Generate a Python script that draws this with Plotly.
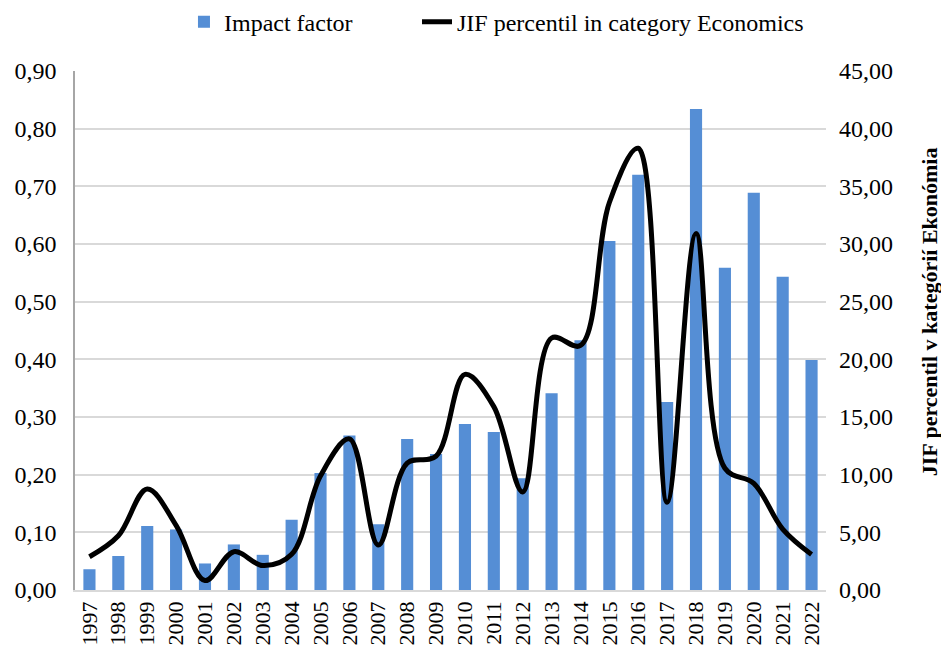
import plotly.graph_objects as go

years = [str(y) for y in range(1997, 2023)]
impact_factor = [0.036, 0.059, 0.111, 0.105, 0.046, 0.079, 0.061, 0.122, 0.203, 0.268,
                 0.114, 0.262, 0.236, 0.288, 0.274, 0.194, 0.341, 0.433, 0.605, 0.720,
                 0.326, 0.834, 0.559, 0.689, 0.543, 0.399]
jif_percentile = [2.88, 4.7, 8.76, 5.6, 0.82, 3.32, 2.12, 3.09, 9.9, 13.1,
                  3.9, 11.0, 11.6, 18.7, 15.9, 8.5, 21.85, 21.2, 33.6, 38.3,
                  7.6, 30.9, 10.56, 9.24, 5.28, 3.08]
left_ticks = [0, 0.1, 0.2, 0.3, 0.4, 0.5, 0.6, 0.7, 0.8, 0.9]
right_ticks = [0, 5, 10, 15, 20, 25, 30, 35, 40, 45]
right_title = "JIF percentil v kategórií Ekonómia"

FONT = "Liberation Serif"

fig = go.Figure()
fig.add_trace(go.Bar(
    x=years, y=impact_factor, name="Impact factor",
    marker=dict(color="#558ED5", line=dict(width=0)),
    yaxis="y", legend="legend",
))
fig.add_trace(go.Scatter(
    x=years, y=jif_percentile, name="JIF percentil in category Economics",
    mode="lines", line=dict(color="black", width=5, shape="spline", smoothing=1),
    yaxis="y2", legend="legend2",
))

legend_common = dict(orientation="h", xanchor="left", y=1.094, yanchor="middle",
                     font=dict(family=FONT, size=24), bgcolor="rgba(0,0,0,0)")

fig.update_layout(
    width=949, height=645,
    margin=dict(l=67, r=131, t=63, b=63, autoexpand=False),
    paper_bgcolor="white", plot_bgcolor="white",
    font=dict(family=FONT, size=24, color="black"),
    separators=", ",
    bargap=0.58,
    showlegend=True,
    legend=dict(x=0.1451, **legend_common),
    legend2=dict(x=0.4554, **legend_common),
    xaxis=dict(type="category", tickmode="array", tickvals=years, ticktext=years,
               tickangle=-90, showline=True, linecolor="#d9d9d9",
               linewidth=1.5, showgrid=False, ticks="", automargin=False,
               ticklabelstandoff=1, tickfont=dict(family=FONT, size=22)),
    yaxis=dict(range=[0, 0.9], tickvals=left_ticks, tickformat=".2f",
               showgrid=True, gridcolor="#d9d9d9", gridwidth=1.5,
               showline=True, linecolor="#a6a6a6", linewidth=1.5,
               zeroline=False, ticks="", ticklabelstandoff=12, automargin=False,
               tickfont=dict(family=FONT, size=24)),
    yaxis2=dict(range=[0, 45], tickvals=right_ticks, tickformat=".2f",
                overlaying="y", side="right", showgrid=False, showline=False,
                zeroline=False, ticks="", ticklabelstandoff=12, automargin=False,
                tickfont=dict(family=FONT, size=24)),
    annotations=[dict(text="<b>" + right_title + "</b>", textangle=-90,
                      xref="paper", yref="paper", x=1.1375, y=0.5356,
                      xanchor="center", yanchor="middle", showarrow=False,
                      font=dict(family=FONT, size=22, color="black"))],
)

fig.write_html("out.html")
